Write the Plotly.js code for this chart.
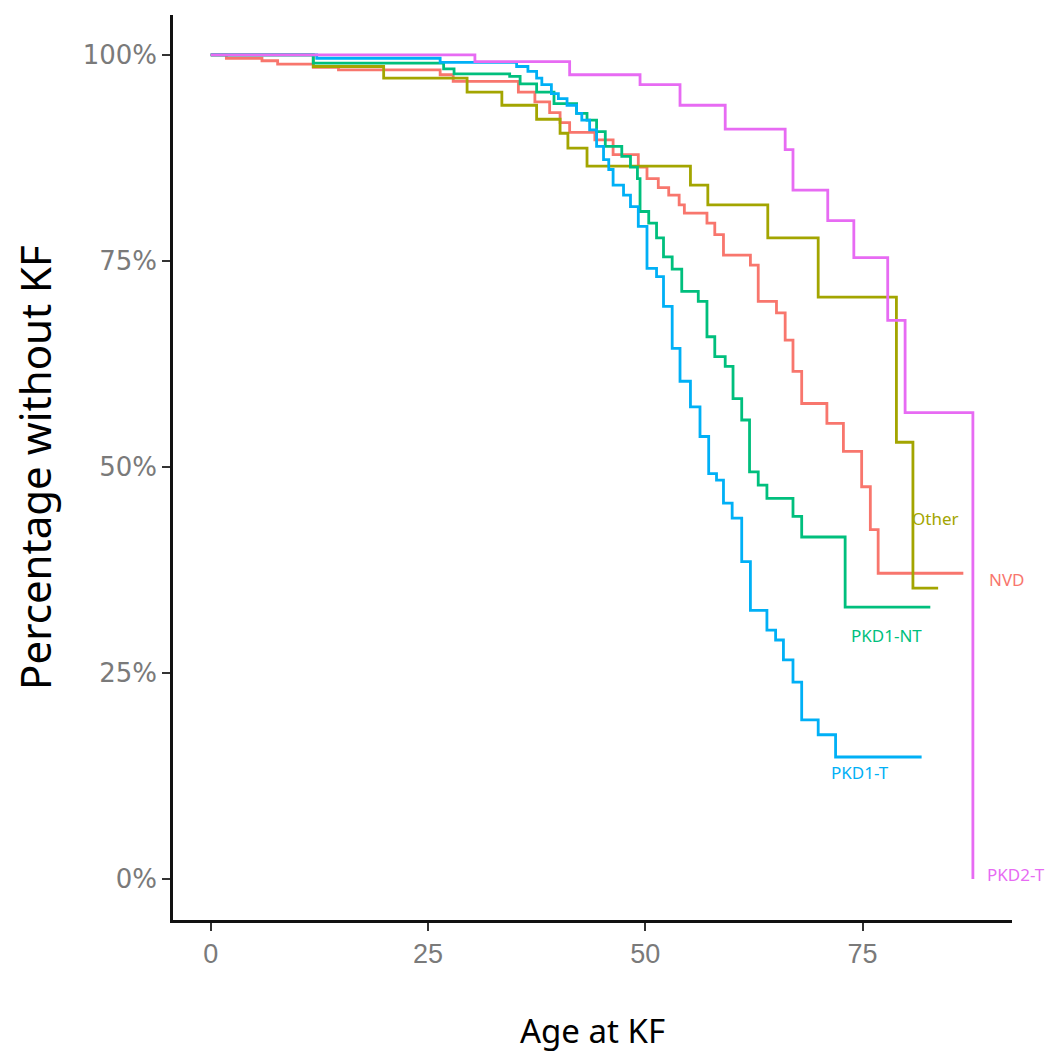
<!DOCTYPE html>
<html>
<head>
<meta charset="utf-8">
<script src="https://cdn.plot.ly/plotly-3.0.1.min.js"></script>
<style>
  html, body { margin: 0; padding: 0; background: #ffffff; }
  #chart { width: 1046px; height: 1057px; }
</style>
</head>
<body>
<div id="chart"></div>
<script>
// Group names (labels drawn at line ends)
const groups = ["NVD", "Other", "PKD1-NT", "PKD1-T", "PKD2-T"];
const groupColors = ["#F8766D", "#A3A500", "#00BF7D", "#00B0F6", "#E76BF3"];

// Kaplan-Meier step data: age at event, % without KF after event
const nvdAge  = [0, 1.8, 5.9, 7.7, 11.8, 14.7, 26.4, 27.9, 35.4, 37.3, 39.0, 40.2, 41.3, 44.2, 46.3, 49.2, 50.2, 51.5, 52.7, 53.9, 54.5, 57.1, 58.0, 59.0, 62.1, 63.0, 65.1, 66.1, 67.0, 68.0, 70.9, 72.8, 74.9, 75.9, 76.8, 86.6];
const nvdSurv = [100, 99.6, 99.3, 98.9, 98.5, 98.2, 97.6, 96.8, 95.5, 94.3, 93.0, 91.8, 90.6, 89.7, 87.9, 86.4, 85.0, 83.9, 83.0, 81.8, 80.8, 79.6, 78.2, 75.7, 74.5, 70.1, 68.7, 65.4, 61.6, 57.7, 55.3, 51.9, 47.6, 42.4, 37.1, 37.1];

const otherAge  = [0, 11.8, 19.9, 29.5, 33.5, 37.5, 40.2, 41.1, 43.3, 55.2, 57.2, 64.1, 69.9, 78.9, 80.8, 83.7];
const otherSurv = [100, 98.6, 97.2, 95.5, 93.9, 92.2, 90.5, 88.7, 86.5, 84.2, 81.8, 77.8, 70.6, 53.0, 35.3, 35.3];

const pkd1ntAge  = [0, 11.8, 26.8, 28.0, 34.4, 35.6, 37.5, 39.5, 42.1, 43.3, 44.4, 45.4, 47.3, 48.3, 49.1, 49.4, 50.4, 51.3, 52.1, 53.1, 54.2, 56.1, 57.1, 58.0, 59.2, 60.1, 61.1, 62.0, 63.0, 64.0, 67.0, 68.0, 73.0, 82.8];
const pkd1ntSurv = [100, 99.0, 98.3, 97.7, 97.4, 96.5, 95.5, 94.1, 92.9, 92.1, 90.7, 88.9, 87.7, 86.4, 85.0, 81.0, 79.6, 77.8, 75.5, 74.0, 71.3, 70.1, 65.8, 63.4, 62.2, 58.3, 55.7, 49.4, 47.8, 46.2, 44.0, 41.5, 33.0, 33.0];

const pkd1tAge  = [0, 12.2, 26.4, 35.2, 36.5, 37.5, 38.1, 39.2, 40.0, 41.0, 42.1, 42.7, 43.6, 44.4, 45.2, 45.8, 46.3, 47.5, 48.3, 49.2, 50.2, 51.3, 52.1, 53.1, 54.0, 55.2, 56.3, 57.3, 58.2, 59.0, 60.0, 61.1, 62.1, 64.0, 65.0, 65.9, 67.0, 68.0, 69.9, 71.9, 81.8];
const pkd1tSurv = [100, 99.6, 99.1, 98.6, 98.0, 97.2, 96.4, 95.3, 94.7, 93.9, 92.9, 92.1, 90.9, 88.9, 87.3, 86.1, 84.2, 83.0, 81.6, 79.2, 74.1, 73.1, 69.5, 64.4, 60.4, 57.3, 53.7, 49.2, 48.4, 45.6, 43.8, 38.5, 32.6, 30.2, 29.0, 26.6, 23.9, 19.3, 17.5, 14.8, 14.8];

const pkd2tAge  = [0, 30.4, 41.3, 49.4, 54.0, 59.2, 66.1, 67.0, 71.0, 74.0, 77.9, 79.9, 87.7];
const pkd2tSurv = [100, 99.2, 97.6, 96.4, 93.9, 91.0, 88.5, 83.6, 79.9, 75.4, 67.8, 56.6, 0];

// Tick labels
const xTicks = [0, 25, 50, 75];
const yTicks = [0, 25, 50, 75, 100];
const yTickText = ["0%", "25%", "50%", "75%", "100%"];

const seriesAge = [nvdAge, otherAge, pkd1ntAge, pkd1tAge, pkd2tAge];
const seriesSurv = [nvdSurv, otherSurv, pkd1ntSurv, pkd1tSurv, pkd2tSurv];

const traces = groups.map((g, i) => ({
  type: "scatter",
  mode: "lines",
  name: g,
  x: seriesAge[i],
  y: seriesSurv[i],
  line: { shape: "hv", color: groupColors[i], width: 2.8 },
  cliponaxis: false,
  hoverinfo: "x+y+name"
}));

// label placement (paper x, data y) for each group
const labelPos = {
  "NVD":     [0.994, 36.3],
  "Other":   [0.909, 43.8],
  "PKD1-NT": [0.850, 29.5],
  "PKD1-T":  [0.819, 12.9],
  "PKD2-T":  [1.005, 0.6]
};

const annotations = groups.map((g, i) => ({
  x: labelPos[g][0], y: labelPos[g][1],
  xref: "paper", yref: "y",
  text: g, showarrow: false,
  xanchor: "center", yanchor: "middle",
  font: { family: "Noto Sans, sans-serif", size: 17, color: groupColors[i] }
}));

const layout = {
  width: 1046, height: 1057,
  margin: { l: 173, r: 34, t: 15, b: 137 },
  paper_bgcolor: "#ffffff",
  plot_bgcolor: "#ffffff",
  showlegend: false,
  xaxis: {
    range: [-4.34, 92.2],
    tickvals: xTicks,
    ticktext: xTicks.map(String),
    showgrid: false, zeroline: false,
    showline: true, linecolor: "#111111", linewidth: 2.8,
    ticks: "outside", ticklen: 8, tickwidth: 2, tickcolor: "#333333",
    tickfont: { family: "Liberation Sans, Arial, sans-serif", size: 27, color: "#7a7a7a" },
    title: { text: "Age at KF", standoff: 52,
      font: { family: "Noto Sans, sans-serif", size: 33, color: "#000000" } }
  },
  yaxis: {
    range: [-4.98, 104.85],
    tickvals: yTicks,
    ticktext: yTickText,
    showgrid: false, zeroline: false,
    showline: true, linecolor: "#111111", linewidth: 2.8,
    ticks: "outside", ticklen: 8, tickwidth: 2, tickcolor: "#333333",
    tickfont: { family: "DejaVu Sans, sans-serif", size: 26, color: "#7a7a7a" },
    title: { text: "Percentage without KF", standoff: 18,
      font: { family: "Noto Sans, sans-serif", size: 42, color: "#000000" } }
  },
  annotations: annotations
};

Plotly.newPlot("chart", traces, layout, { displayModeBar: false, staticPlot: true });
</script>
</body>
</html>
